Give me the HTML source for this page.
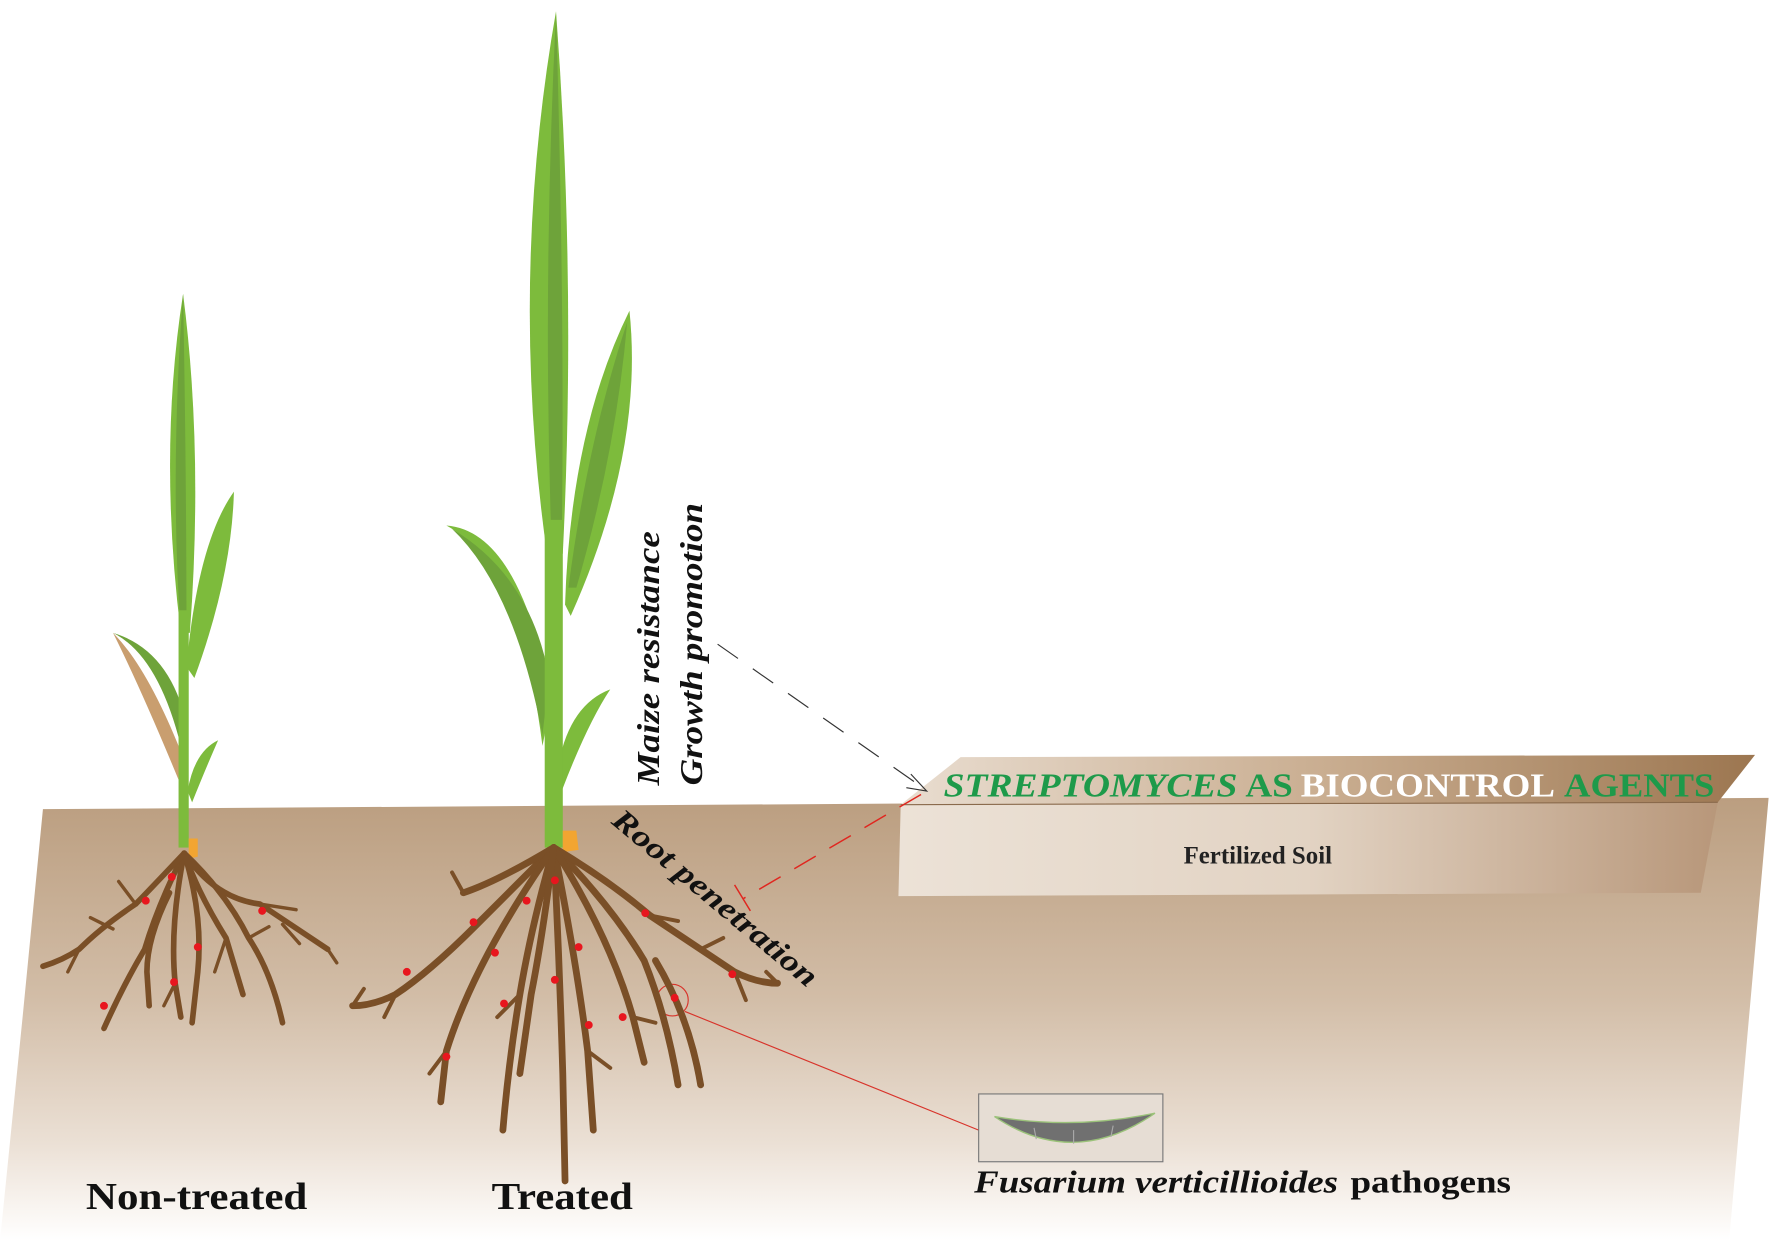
<!DOCTYPE html>
<html><head><meta charset="utf-8"><style>
html,body{margin:0;padding:0;background:#fff}
svg{display:block}
text{font-family:"Liberation Serif",serif;font-weight:bold}
</style></head><body>
<svg width="1772" height="1241" viewBox="0 0 1772 1241" xmlns="http://www.w3.org/2000/svg">
<defs>
<linearGradient id="soil" x1="0" y1="0" x2="0" y2="1">
<stop offset="0" stop-color="#bb9e80"/><stop offset="0.45" stop-color="#d2bda7"/><stop offset="0.78" stop-color="#ebe0d5"/><stop offset="0.95" stop-color="#fbf8f5"/><stop offset="1" stop-color="#ffffff"/>
</linearGradient>
<linearGradient id="top" x1="0" y1="0" x2="1" y2="0">
<stop offset="0" stop-color="#e9ddd0"/><stop offset="0.5" stop-color="#c9ad90"/><stop offset="1" stop-color="#9c7650"/>
</linearGradient>
<linearGradient id="front" x1="0" y1="0" x2="1" y2="0">
<stop offset="0" stop-color="#ece2d7"/><stop offset="0.5" stop-color="#e2d3c3"/><stop offset="1" stop-color="#b8977a"/>
</linearGradient>
</defs>
<g transform="scale(1.1301)">
<polygon points="38,716 1565,706 1530,1098 0,1098 20,900" fill="url(#soil)"/>
<polygon points="850,670 1553,668 1520,710 797,712" fill="url(#top)"/>
<polygon points="797,712 1520,710 1505,790 795,793" fill="url(#front)"/>
<line x1="797" y1="712" x2="1520" y2="710" stroke="#8a6a4c" stroke-width="1"/>
<text x="835" y="705" font-size="30" font-style="italic" fill="#1e9a4a" textLength="260" lengthAdjust="spacingAndGlyphs">STREPTOMYCES</text>
<text x="1102" y="705" font-size="30" fill="#1e9a4a" textLength="42" lengthAdjust="spacingAndGlyphs">AS</text>
<text x="1151" y="705" font-size="30" fill="#ffffff" textLength="225" lengthAdjust="spacingAndGlyphs">BIOCONTROL</text>
<text x="1384" y="705" font-size="30" fill="#1e9a4a" textLength="133" lengthAdjust="spacingAndGlyphs">AGENTS</text>
<text x="1113" y="764" font-size="22" fill="#222" text-anchor="middle">Fertilized Soil</text>

<line x1="635" y1="570" x2="818" y2="698" stroke="#333" stroke-width="1" stroke-dasharray="22,16"/>
<polyline points="806,685 820,700 802,697" fill="none" stroke="#333" stroke-width="1"/>
<line x1="815" y1="703" x2="658" y2="795" stroke="#e0261f" stroke-width="1.3" stroke-dasharray="22,14"/>
<line x1="650" y1="783" x2="664" y2="806" stroke="#e0261f" stroke-width="1.3"/>
<circle cx="595" cy="885" r="14" fill="none" stroke="#d8332a" stroke-width="1"/>
<line x1="606" y1="895" x2="866" y2="1000" stroke="#d8332a" stroke-width="1"/>

<rect x="866" y="968" width="163" height="60" fill="#e6ddd4" stroke="#777" stroke-width="1"/>
<path d="M880,988 Q950,1035 1022,985 Q950,1000 880,988Z" fill="#707070" stroke="#9bc27a" stroke-width="1.2"/>
<g stroke="#aaa" stroke-width="1"><line x1="915" y1="998" x2="917" y2="1008"/><line x1="950" y1="1000" x2="950" y2="1012"/><line x1="985" y1="996" x2="983" y2="1006"/></g>

<text transform="translate(583,695) rotate(-90)" font-size="28" font-style="italic" fill="#111" textLength="225" lengthAdjust="spacingAndGlyphs">Maize resistance</text>
<text transform="translate(621,695) rotate(-90)" font-size="28" font-style="italic" fill="#111" textLength="250" lengthAdjust="spacingAndGlyphs">Growth promotion</text>
<text transform="translate(540,728) rotate(40)" font-size="27" font-style="italic" fill="#111" textLength="228" lengthAdjust="spacingAndGlyphs">Root penetration</text>

<text x="76" y="1070" font-size="34" fill="#111" textLength="196" lengthAdjust="spacingAndGlyphs">Non-treated</text>
<text x="435" y="1070" font-size="34" fill="#111" textLength="125" lengthAdjust="spacingAndGlyphs">Treated</text>
<text x="862" y="1055" font-size="28" font-style="italic" fill="#111" textLength="322" lengthAdjust="spacingAndGlyphs">Fusarium verticillioides</text>
<text x="1195" y="1055" font-size="28" fill="#111" textLength="142" lengthAdjust="spacingAndGlyphs">pathogens</text>

<g>
<path d="M160,560 Q140,400 162,260 Q180,400 168,560Z" fill="#7dbb3c"/>
<path d="M160,560 Q150,420 162,260 Q165,420 165,560Z" fill="#6ea33a"/>
<path d="M165,590 Q175,480 207,435 Q205,510 172,600Z" fill="#7dbb3c"/>
<path d="M160,660 Q140,580 100,560 Q150,575 165,640Z" fill="#6ea33a"/>
<path d="M160,665 Q130,590 100,560 Q125,610 158,690Z" fill="#c99e6f"/>
<path d="M166,700 Q172,665 193,655 Q182,680 170,710Z" fill="#7dbb3c"/>
<rect x="158" y="540" width="9" height="210" fill="#7dbb3c"/>
<path d="M167,742 L175,742 L175,758 L167,760Z" fill="#f2a531"/>
</g>
<g>
<path d="M484,490 Q450,250 492,10 Q510,250 498,490Z" fill="#7dbb3c"/>
<path d="M488,480 Q480,250 492,12 Q500,280 497,480Z" fill="#6ea33a"/>
<path d="M500,535 Q505,380 557,275 Q570,400 505,545Z" fill="#7dbb3c"/>
<path d="M503,520 Q520,390 555,285 Q545,400 510,520Z" fill="#6ea33a"/>
<path d="M480,660 Q460,500 395,465 Q460,470 488,620Z" fill="#7dbb3c"/>
<path d="M480,650 Q455,520 400,468 Q470,510 486,600Z" fill="#6ea33a"/>
<path d="M492,690 Q500,625 540,610 Q520,640 497,700Z" fill="#7dbb3c"/>
<rect x="482" y="460" width="16" height="290" fill="#7dbb3c"/>
<path d="M498,735 L510,735 L512,752 L498,754Z" fill="#f2a531"/>
</g>

<g fill="none" stroke="#7a4f27" stroke-linecap="round" stroke-linejoin="round">
<g stroke-width="5">
<path d="M163,755 Q140,800 128,840 Q110,870 92,910"/>
<path d="M163,755 Q150,820 155,870 L160,900"/>
<path d="M163,755 Q180,810 175,860 L170,905"/>
<path d="M163,755 Q200,790 220,830 Q240,860 250,905"/>
<path d="M163,755 Q130,790 120,800 Q90,820 70,840 Q55,850 38,855"/>
<path d="M163,755 Q190,795 230,800 Q260,820 290,840"/>
<path d="M163,755 Q175,790 200,830 L215,880"/>
<path d="M150,790 Q130,830 130,860 L132,890"/>
</g>
<g stroke-width="3">
<path d="M120,800 L105,780"/><path d="M100,822 L80,812"/><path d="M230,800 L262,805"/><path d="M250,818 L265,835"/><path d="M70,840 L60,860"/><path d="M290,840 L298,852"/><path d="M200,830 L190,860"/><path d="M155,870 L145,890"/><path d="M220,830 L238,820"/>
</g>
<g stroke-width="6">
<path d="M490,750 Q470,820 460,880 Q450,940 445,1000"/>
<path d="M490,750 Q495,850 498,950 L500,1045"/>
<path d="M490,750 Q510,850 520,930 L525,1000"/>
<path d="M490,750 Q540,800 570,850 Q590,900 600,960"/>
<path d="M490,750 Q450,790 420,820 Q380,860 350,880 Q330,890 312,890"/>
<path d="M490,750 Q540,780 575,810 Q620,840 650,860 Q670,870 688,870"/>
<path d="M490,750 Q440,780 410,790"/>
<path d="M490,750 Q420,850 395,930 L390,975"/>
<path d="M490,750 Q540,830 560,900 L570,940"/>
<path d="M490,750 Q480,830 470,880 L460,950"/>
<path d="M580,850 Q610,900 620,960"/>
</g>
<g stroke-width="3.5">
<path d="M410,790 L400,772"/><path d="M420,820 L405,835"/><path d="M350,880 L340,900"/><path d="M312,890 L322,875"/><path d="M575,810 L600,815"/><path d="M620,840 L640,830"/><path d="M650,860 L660,885"/><path d="M688,870 L678,860"/><path d="M460,880 L440,900"/><path d="M520,930 L540,945"/><path d="M560,900 L580,905"/><path d="M395,930 L380,950"/>
</g>
</g>
<g fill="#e8161e">
<circle cx="152" cy="776" r="3.5"/><circle cx="129" cy="797" r="3.5"/><circle cx="232" cy="806" r="3.5"/><circle cx="175" cy="838" r="3.5"/><circle cx="154" cy="869" r="3.5"/><circle cx="92" cy="890" r="3.5"/>
<circle cx="491" cy="779" r="3.5"/><circle cx="466" cy="797" r="3.5"/><circle cx="419" cy="816" r="3.5"/><circle cx="571" cy="808" r="3.5"/><circle cx="438" cy="843" r="3.5"/><circle cx="512" cy="838" r="3.5"/><circle cx="360" cy="860" r="3.5"/><circle cx="648" cy="862" r="3.5"/><circle cx="491" cy="867" r="3.5"/><circle cx="597" cy="883" r="3.5"/><circle cx="446" cy="888" r="3.5"/><circle cx="521" cy="907" r="3.5"/><circle cx="551" cy="900" r="3.5"/><circle cx="395" cy="935" r="3.5"/>
</g>
</g>
</svg>
</body></html>
